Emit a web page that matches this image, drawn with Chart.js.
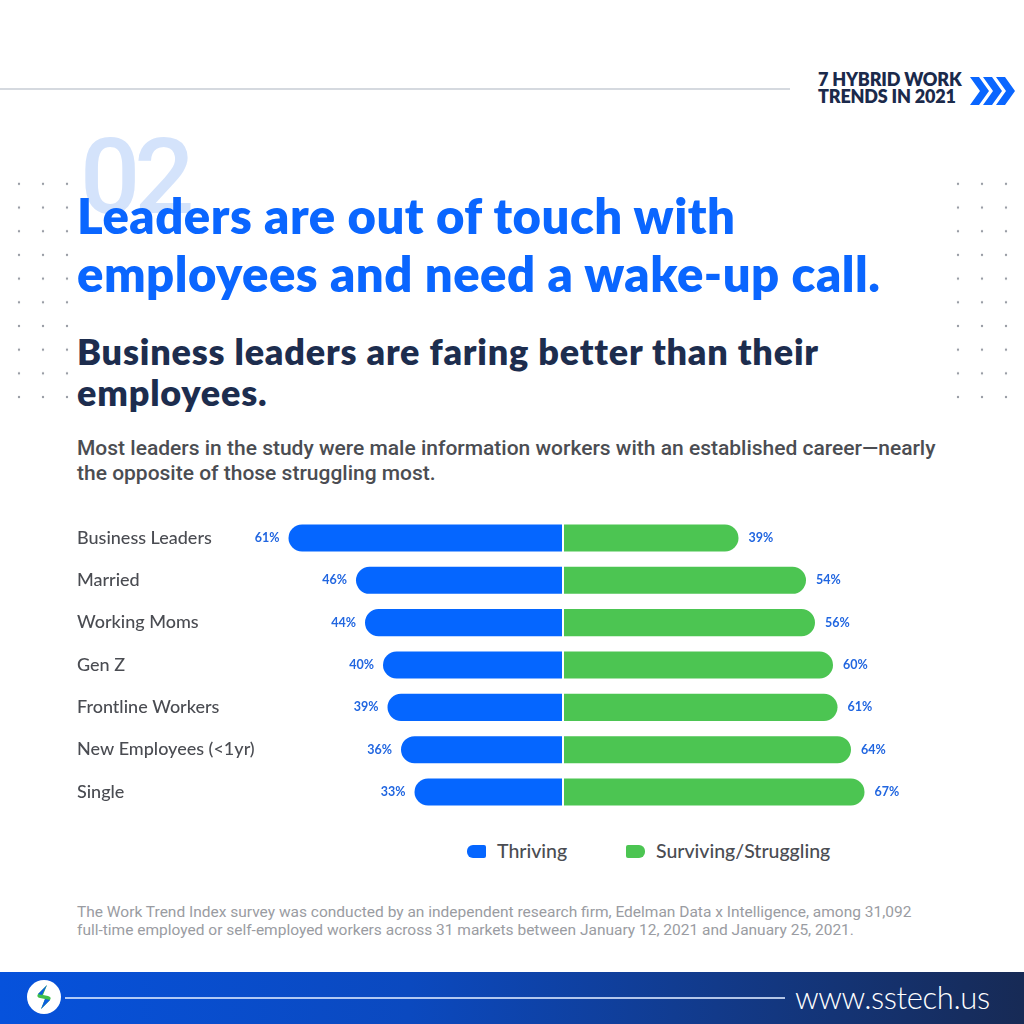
<!DOCTYPE html>
<html>
<head>
<meta charset="utf-8">
<script src="https://cdn.jsdelivr.net/npm/chart.js@4.4.1/dist/chart.umd.min.js"></script>
<style>
  html, body { margin: 0; padding: 0; }
  body { width: 1024px; height: 1024px; position: relative; overflow: hidden; background: #fff; font-family: Lato, "Noto Sans", sans-serif; }
  .abs { position: absolute; }
  .topline { left: 0; top: 88px; width: 790px; height: 2px; background: #d5d9df; }
  .badge { left: 818px; top: 71px; font: 800 18px/17px Lato, sans-serif; color: #1b2a4b; letter-spacing: -0.2px; }
  .num { left: 80px; top: 124px; font: 500 106px/1 Roboto, sans-serif; color: #d4e3fb; letter-spacing: -6px; }
  .title { left: 77px; top: 186px; font: 800 49px/58px Lato, sans-serif; color: #0a66ff; letter-spacing: 0.5px; }
  .sub { left: 77px; top: 331px; font: 800 36px/41px Lato, sans-serif; color: #1d2d4e; letter-spacing: 0.8px; }
  .para { left: 77px; top: 436px; font: 500 21px/25px Roboto, sans-serif; color: #4b4d52; letter-spacing: 0; }
  .foot { left: 77px; top: 903px; font: 400 15.5px/18px Roboto, sans-serif; color: #9a9ca2; }
  .dots { width: 72px; height: 237px; top: 172px;
    background-image: radial-gradient(circle, #9a9ea6 1.2px, transparent 1.6px);
    background-size: 24px 23.7px; }
  #chartWrap { left: 77px; top: 506px; width: 860px; height: 318px; }
  #legend { left: 467px; top: 840px; height: 22px; }
  .lg { position: absolute; top: 0; white-space: nowrap; font: 500 19.5px/22px Lato, sans-serif; color: #4a4c52; }
  .lg i { position: absolute; top: 5px; width: 19px; height: 13px; }
  .band { left: 0; top: 972px; width: 1024px; height: 52px;
    background: linear-gradient(90deg, #0652dc 0%, #0b49bf 40%, #123a8a 70%, #172a55 100%); }
  .bandline { left: 65px; top: 997px; width: 720px; height: 1.5px; background: rgba(220,232,255,0.8); }
  .url { left: 795px; top: 979px; font: 300 31px/36px Lato, sans-serif; color: #fff; letter-spacing: -0.4px; }
</style>
</head>
<body>
<div class="abs topline"></div>
<div class="abs badge">7 HYBRID WORK<br>TRENDS IN 2021</div>
<svg class="abs" style="left:968px;top:76px" width="50" height="30" viewBox="0 0 50 30">
  <path d="M2 1 h9 l10 14 l-10 14 h-9 l10 -14 z" fill="#0a66ff"/>
  <path d="M15 1 h9 l10 14 l-10 14 h-9 l10 -14 z" fill="#0a66ff"/>
  <path d="M28 1 h9 l10 14 l-10 14 h-9 l10 -14 z" fill="#0a66ff"/>
</svg>
<div class="abs dots" style="left:7px"></div>
<div class="abs dots" style="left:946px"></div>
<div class="abs num">02</div>
<div class="abs title">Leaders are out of touch with<br>employees and need a wake-up call.</div>
<div class="abs sub">Business leaders are faring better than their<br>employees.</div>
<div class="abs para">Most leaders in the study were male information workers with an established career—nearly<br>the opposite of those struggling most.</div>

<div class="abs" id="chartWrap"><canvas id="chartBars"></canvas></div>
<div class="abs" id="legend"></div>

<div class="abs foot">The Work Trend Index survey was conducted by an independent research firm, Edelman Data x Intelligence, among 31,092<br>full-time employed or self-employed workers across 31 markets between January 12, 2021 and January 25, 2021.</div>

<div class="abs band"></div>
<div class="abs bandline"></div>
<svg class="abs" style="left:26px;top:979px" width="36" height="36" viewBox="0 0 36 36">
  <circle cx="18" cy="18" r="17" fill="#fff"/>
  <path d="M21 6 L12 15 Q10 18 14 19 L19 20 L15 30 L24 21 Q26 18 22 17 L17 16 Z" fill="#3fbf4a"/>
  <path d="M21 6 L16 16 L12 15 Z M15 30 L19 20 L24 21 Z" fill="#0a5ee0"/>
</svg>
<div class="abs url">www.sstech.us</div>

<script>
// chart data
const categories = ['Business Leaders', 'Married', 'Working Moms', 'Gen Z', 'Frontline Workers', 'New Employees (<1yr)', 'Single'];
const thriving = [61, 46, 44, 40, 39, 36, 33];
const surviving = [39, 54, 56, 60, 61, 64, 67];
const seriesNames = ['Thriving', 'Surviving/Struggling'];

const colors = {
  blue: '#0566ff',
  green: '#4cc552',
  pct: '#2166e0',
  label: '#4a4c52',
};

// percent labels at the end of each bar
const pctLabels = {
  id: 'pctLabels',
  afterDatasetsDraw(chart) {
    const ctx = chart.ctx;
    ctx.save();
    ctx.font = '700 12.5px Lato, sans-serif';
    ctx.fillStyle = colors.pct;
    ctx.textBaseline = 'middle';
    chart.data.datasets.forEach((ds, di) => {
      const meta = chart.getDatasetMeta(di);
      meta.data.forEach((bar, i) => {
        const v = Math.abs(ds.data[i]) + '%';
        if (di === 0) {
          ctx.textAlign = 'right';
          ctx.fillText(v, bar.x - 9, bar.y);
        } else {
          ctx.textAlign = 'left';
          ctx.fillText(v, bar.x + 10, bar.y);
        }
      });
    });
    // thin white gap between the two halves
    const x0 = chart.scales.x.getPixelForValue(0);
    ctx.fillStyle = '#fff';
    ctx.fillRect(x0 - 1, chart.chartArea.top, 2, chart.chartArea.bottom - chart.chartArea.top);
    ctx.restore();
  }
};

const chartBars = new Chart(document.getElementById('chartBars'), {
  type: 'bar',
  data: {
    labels: categories,
    datasets: [
      {
        label: seriesNames[0],
        data: thriving.map(v => -v),
        backgroundColor: colors.blue,
        borderRadius: 14,
        borderSkipped: 'start',
        barPercentage: 0.64,
        categoryPercentage: 1,
      },
      {
        label: seriesNames[1],
        data: surviving,
        backgroundColor: colors.green,
        borderRadius: 14,
        borderSkipped: 'start',
        barPercentage: 0.64,
        categoryPercentage: 1,
      },
    ],
  },
  options: {
    indexAxis: 'y',
    responsive: true,
    maintainAspectRatio: false,
    animation: false,
    layout: { padding: { right: 68 } },
    scales: {
      x: {
        stacked: true,
        min: -68,
        max: 68,
        display: false,
      },
      y: {
        stacked: true,
        grid: { display: false },
        border: { display: false },
        afterFit(scale) { scale.width = 180; },
        ticks: {
          crossAlign: 'far',
          padding: 0,
          color: colors.label,
          font: { family: 'Lato, sans-serif', size: 18, weight: '500' },
        },
      },
    },
    plugins: {
      legend: { display: false },
      tooltip: { enabled: false },
    },
  },
  plugins: [pctLabels],
});

// html legend built from the datasets
const legendEl = document.getElementById('legend');
const legendX = [0, 159];
chartBars.data.datasets.forEach((ds, i) => {
  const item = document.createElement('div');
  item.className = 'lg';
  item.style.left = legendX[i] + 'px';
  const sw = document.createElement('i');
  sw.style.background = ds.backgroundColor;
  sw.style.borderRadius = i === 0 ? '6px 2px 2px 6px' : '2px 6px 6px 2px';
  item.appendChild(sw);
  const t = document.createElement('span');
  t.style.marginLeft = '30px';
  t.textContent = ds.label;
  item.appendChild(t);
  legendEl.appendChild(item);
});
</script>
</body>
</html>
